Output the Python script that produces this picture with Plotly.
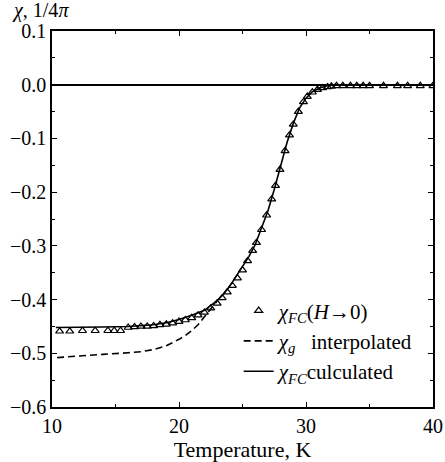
import plotly.graph_objects as go

# chi_FC (H->0) measured points
tri_T = [10.6, 11.4, 12.4, 13.4, 14.4, 14.9, 15.4, 16.0, 16.5, 17.0, 17.5, 18.0, 18.5, 19.0,
         19.5, 20.0, 20.5, 21.0, 21.5, 22.0, 22.5, 23.0, 23.4, 23.8, 24.2, 24.6, 25.0, 25.4,
         25.8, 26.1, 26.5, 26.9, 27.3, 27.6, 27.95, 28.35, 28.7, 29.0, 29.4, 29.8, 30.1, 30.5,
         30.9, 31.3, 31.7, 32.0, 32.4, 32.9, 33.5, 34.0, 34.5, 35.0, 36.1, 37.2, 38.0, 39.0, 40.0]
tri_chi = [-0.459, -0.459, -0.458, -0.458, -0.458, -0.458, -0.458, -0.452, -0.451, -0.450,
           -0.450, -0.449, -0.447, -0.446, -0.444, -0.441, -0.438, -0.434, -0.429, -0.424,
           -0.416, -0.407, -0.397, -0.386, -0.374, -0.360, -0.345, -0.328, -0.309, -0.294,
           -0.270, -0.243, -0.213, -0.188, -0.158, -0.123, -0.094, -0.074, -0.050, -0.032,
           -0.022, -0.014, -0.009, -0.006, -0.004, -0.003, -0.002, -0.002, -0.002, -0.002,
           -0.002, -0.002, -0.002, -0.002, -0.002, -0.002, -0.002]

# chi_g interpolated (dashed)
g_T = [10.4, 12.0, 14.0, 16.0, 17.0, 18.0, 19.0, 20.0, 20.5, 21.0, 21.5, 22.0, 22.5, 23.0]
g_chi = [-0.508, -0.505, -0.502, -0.499, -0.497, -0.493, -0.486, -0.474, -0.467, -0.458,
         -0.447, -0.432, -0.417, -0.403]

# chi_FC calculated (solid)
c_T = [10.3, 12.0, 14.0, 16.0, 17.0, 18.0, 19.0, 20.0, 21.0, 22.0, 23.0, 23.5, 24.0, 24.5,
       25.0, 25.5, 26.0, 26.5, 27.0, 27.5, 28.0, 28.5, 29.0, 29.5, 30.0, 30.5, 31.0, 31.5,
       32.0, 33.0, 35.0, 40.0]
c_chi = [-0.452, -0.452, -0.451, -0.450, -0.449, -0.447, -0.443, -0.437, -0.429, -0.420,
         -0.402, -0.390, -0.375, -0.357, -0.340, -0.320, -0.298, -0.268, -0.235, -0.195,
         -0.152, -0.108, -0.072, -0.043, -0.025, -0.013, -0.007, -0.003, -0.001, 0.0, 0.0, 0.0]

x_ticks = [10, 20, 30, 40]
y_ticks = [0.1, 0.0, -0.1, -0.2, -0.3, -0.4, -0.5, -0.6]
y_labels = ["0.1", "0.0", "\u22120.1", "\u22120.2", "\u22120.3", "\u22120.4", "\u22120.5", "\u22120.6"]

FONT = "Liberation Serif"

fig = go.Figure()
fig.add_trace(go.Scatter(
    x=tri_T, y=tri_chi, mode="markers", name="<i>χ</i><sub><i>FC</i></sub>(<i>H</i>→0)",
    marker=dict(symbol="triangle-up-open", size=7, color="black", line=dict(width=1.2, color="black")),
))
fig.add_trace(go.Scatter(
    x=g_T, y=g_chi, mode="lines", name="<i>χ</i><sub><i>g</i></sub>\u00a0\u00a0\u00a0interpolated",
    line=dict(color="black", width=1.6, dash="7px,4px"),
))
fig.add_trace(go.Scatter(
    x=c_T, y=c_chi, mode="lines", name="<i>χ</i><sub><i>FC</i></sub>culculated",
    line=dict(color="black", width=1.6),
))

axis_common = dict(
    showgrid=False, showline=True, linecolor="black", linewidth=1.5, mirror="allticks",
    ticks="inside", ticklen=5, tickwidth=1.2, tickcolor="black", automargin=False,
    tickfont=dict(family=FONT, size=20, color="black"),
)

fig.update_xaxes(
    range=[10, 40], tickvals=x_ticks, zeroline=False,
    minor=dict(ticks="inside", ticklen=3, tickwidth=1, tickcolor="black", dtick=5),
    title=dict(text="Temperature, K", font=dict(family=FONT, size=22, color="black"), standoff=2),
    **axis_common,
)
fig.update_yaxes(
    range=[-0.6, 0.1], tickvals=y_ticks, ticktext=y_labels,
    zeroline=True, zerolinecolor="black", zerolinewidth=1.5,
    minor=dict(ticks="inside", ticklen=3, tickwidth=1, tickcolor="black", dtick=0.05),
    **axis_common,
)

fig.add_annotation(
    text="<i>χ</i>, 1/4<i>π</i>", xref="paper", yref="paper", x=-0.11, y=1.055,
    xanchor="left", yanchor="middle", showarrow=False,
    font=dict(family=FONT, size=20, color="black"),
)

fig.update_layout(
    width=445, height=462,
    margin=dict(l=52, r=12, t=31, b=55),
    paper_bgcolor="white", plot_bgcolor="white",
    font=dict(family=FONT, color="black"),
    showlegend=True,
    legend=dict(
        x=0.49, y=0.31, xanchor="left", yanchor="top",
        bgcolor="rgba(0,0,0,0)", font=dict(family=FONT, size=21, color="black"),
        tracegroupgap=0,
    ),
)

fig.write_html("out.html")
